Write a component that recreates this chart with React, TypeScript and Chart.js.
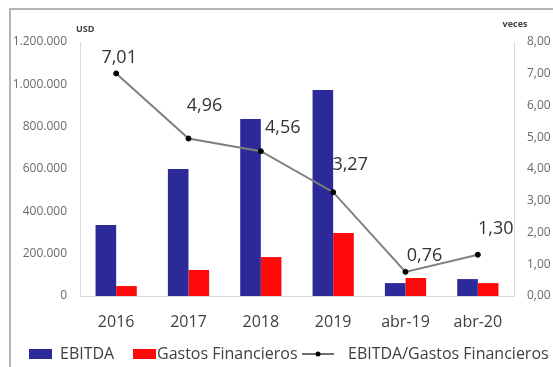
import React, { useEffect, useRef } from "react";
import { Chart, registerables } from "chart.js";

Chart.register(...registerables);

const categories = ["2016", "2017", "2018", "2019", "abr-19", "abr-20"];
const ebitda = [335000, 600000, 836000, 973000, 61000, 80000];
const gastosFinancieros = [47000, 123000, 184000, 298000, 85000, 61000];
const ratio = [7.01, 4.96, 4.56, 3.27, 0.76, 1.3];
const leftTicks = [0, 200000, 400000, 600000, 800000, 1000000, 1200000];
const rightTicks = [0, 1, 2, 3, 4, 5, 6, 7, 8];

// label offsets (style) relative to each point
const labelDx = [3, 16, 22, 17, 19, 18];
const labelDy = [-16, -33, -23, -27, -16, -26];

const BLUE = "#2b2a98";
const RED = "#ff0a0a";
const FONT = "'Open Sans', sans-serif";

const fmtThousands = (v: number) =>
  String(Math.round(v)).replace(/\B(?=(\d{3})+(?!\d))/g, ".");
const fmtDec = (v: number) => v.toFixed(2).replace(".", ",");

const overlayPlugin = {
  id: "overlay",
  beforeDraw(chart: any) {
    const ctx = chart.ctx;
    ctx.save();
    ctx.fillStyle = "#ffffff";
    ctx.fillRect(0, 0, chart.width, chart.height);
    ctx.strokeStyle = "#b4b4b4";
    ctx.lineWidth = 2;
    ctx.beginPath();
    ctx.moveTo(10, chart.height);
    ctx.lineTo(10, 9);
    ctx.lineTo(chart.width, 9);
    ctx.stroke();
    ctx.restore();
  },
  afterDraw(chart: any) {
    const ctx = chart.ctx;
    const area = chart.chartArea;
    ctx.save();
    // axis titles
    ctx.fillStyle = "#404040";
    ctx.font = `bold 9px ${FONT}`;
    ctx.textBaseline = "middle";
    ctx.textAlign = "left";
    ctx.fillText("USD", area.left - 4, area.top - 13);
    ctx.textAlign = "center";
    ctx.fillText("veces", area.right + 1, area.top - 18);

    // data labels
    const meta = chart.getDatasetMeta(0);
    ctx.font = `18px ${FONT}`;
    ctx.fillStyle = "#333333";
    ctx.textAlign = "center";
    ctx.textBaseline = "middle";
    meta.data.forEach((pt: any, i: number) => {
      ctx.fillText(fmtDec(ratio[i]), pt.x + labelDx[i], pt.y + labelDy[i]);
    });

    // legend
    const ly = 354;
    ctx.font = `16px ${FONT}`;
    ctx.textAlign = "left";
    ctx.textBaseline = "middle";
    ctx.fillStyle = BLUE;
    ctx.fillRect(29, ly - 5, 23, 10);
    ctx.fillStyle = "#404040";
    ctx.fillText("EBITDA", 60, ly);
    ctx.fillStyle = RED;
    ctx.fillRect(133, ly - 5, 23, 10);
    ctx.fillStyle = "#404040";
    ctx.fillText("Gastos Financieros", 157, ly);
    ctx.strokeStyle = "#404040";
    ctx.lineWidth = 1.5;
    ctx.beginPath();
    ctx.moveTo(302, ly);
    ctx.lineTo(334, ly);
    ctx.stroke();
    ctx.fillStyle = "#000000";
    ctx.beginPath();
    ctx.arc(318, ly, 2.5, 0, Math.PI * 2);
    ctx.fill();
    ctx.fillStyle = "#404040";
    ctx.fillText("EBITDA/Gastos Financieros", 348, ly);
    ctx.restore();
  },
};

export default function App() {
  const ref = useRef<HTMLCanvasElement | null>(null);
  useEffect(() => {
    if (!ref.current) return;
    const chart = new Chart(ref.current, {
      type: "bar",
      data: {
        labels: categories,
        datasets: [
          {
            type: "line",
            label: "EBITDA/Gastos Financieros",
            data: ratio,
            yAxisID: "y1",
            borderColor: "#808080",
            borderWidth: 2,
            pointBackgroundColor: "#000000",
            pointBorderColor: "#000000",
            pointRadius: 2.5,
            pointBorderWidth: 1,
            tension: 0,
            order: 0,
          } as any,
          {
            label: "EBITDA",
            data: ebitda,
            backgroundColor: BLUE,
            yAxisID: "y",
            categoryPercentage: 0.57,
            barPercentage: 1,
            order: 1,
          },
          {
            label: "Gastos Financieros",
            data: gastosFinancieros,
            backgroundColor: RED,
            yAxisID: "y",
            categoryPercentage: 0.57,
            barPercentage: 1,
            order: 2,
          },
        ],
      },
      options: {
        responsive: false,
        animation: false,
        devicePixelRatio: 1,
        layout: { padding: { top: 42, left: 0, right: 0, bottom: 0 } },
        plugins: { legend: { display: false }, tooltip: { enabled: false } },
        scales: {
          x: {
            grid: { display: false, drawTicks: false },
            border: { display: true, color: "#d9d9d9", width: 1 },
            ticks: {
              font: { family: FONT, size: 16 },
              color: "#404040",
              padding: 17,
            },
            afterFit: (s: any) => {
              s.height = 71;
            },
          },
          y: {
            position: "left",
            min: 0,
            max: 1200000,
            afterBuildTicks: (s: any) => {
              s.ticks = leftTicks.map((v) => ({ value: v }));
            },
            grid: { display: false, drawTicks: false },
            border: { display: true, color: "#d9d9d9", width: 1 },
            ticks: {
              font: { family: FONT, size: 12 },
              color: "#6a6a6a",
              padding: 13,
              callback: (v: any) => fmtThousands(Number(v)),
            },
            afterFit: (s: any) => {
              s.width = 80;
            },
          },
          y1: {
            position: "right",
            min: 0,
            max: 8,
            afterBuildTicks: (s: any) => {
              s.ticks = rightTicks.map((v) => ({ value: v }));
            },
            grid: { display: false, drawTicks: false },
            border: { display: true, color: "#d9d9d9", width: 1 },
            ticks: {
              font: { family: FONT, size: 12 },
              color: "#6a6a6a",
              padding: 13,
              callback: (v: any) => fmtDec(Number(v)),
            },
            afterFit: (s: any) => {
              s.width = 39;
            },
          },
        },
      },
      plugins: [overlayPlugin],
    });
    return () => chart.destroy();
  }, []);
  return (
    <div style={{ position: "fixed", left: 0, top: 0, width: 553, height: 367, overflow: "hidden", background: "#fff" }}>
      <canvas ref={ref} width={553} height={367} style={{ display: "block", width: 553, height: 367 }} />
    </div>
  );
}
